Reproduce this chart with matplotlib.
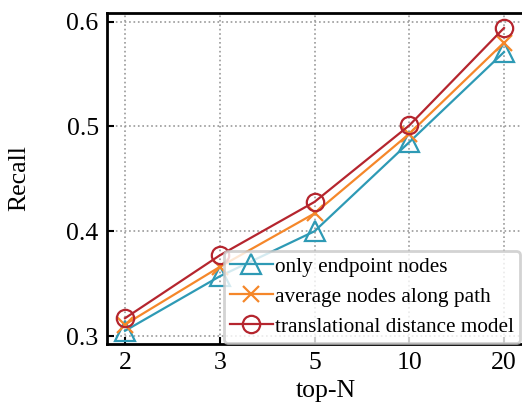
import matplotlib
matplotlib.use("Agg")
import matplotlib.pyplot as plt

plt.rcParams['font.family'] = ['Liberation Serif', 'DejaVu Serif']
plt.rcParams['mathtext.fontset'] = 'stix'

categories = ["2", "3", "5", "10", "20"]
endpoint = [0.305, 0.357, 0.400, 0.485, 0.571]
average = [0.311, 0.366, 0.417, 0.493, 0.580]
translational = [0.317, 0.377, 0.428, 0.501, 0.594]
labels = ["only endpoint nodes", "average nodes along path", "translational distance model"]
yticks = [0.3, 0.4, 0.5, 0.6]

W, H = 522, 407
fig = plt.figure(figsize=(W/100, H/100), dpi=100)
ax = fig.add_axes([107/W, (H-344)/H, (545-107)/W, (344-13)/H])

x = list(range(len(categories)))
ax.plot(x, endpoint, color='#2E9AB5', marker='^', markersize=14, mfc='none', mew=1.6, lw=1.6, label=labels[0])
ax.plot(x, average, color='#F5872A', marker='x', markersize=12, mfc='none', mew=1.6, lw=1.6, label=labels[1])
ax.plot(x, translational, color='#B5252E', marker='o', markersize=12.5, mfc='none', mew=1.6, lw=1.6, label=labels[2])

ax.set_xlim(-0.19, (545-125)/94.75)
ax.set_ylim(0.2924, 0.6083)
ax.set_xticks(x)
ax.set_xticklabels(categories)
ax.set_yticks(yticks)
ax.set_yticklabels([f"{v:.1f}" for v in yticks])
ax.tick_params(direction='in', length=5, width=1.5, labelsize=18.5, pad=6)
ax.spines['right'].set_visible(False)
for s in ax.spines.values():
    s.set_linewidth(2)
ax.grid(True, linestyle=':', color='#999999', linewidth=1.2)
ax.set_xlabel("top-N", fontsize=18.5, labelpad=4)
ax.set_ylabel("Recall", fontsize=18.5, labelpad=26)

leg = ax.legend(loc='lower right', bbox_to_anchor=(520/W, (H-343)/H), bbox_transform=fig.transFigure,
                fontsize=15.3, handlelength=2.0, handletextpad=0.1, labelspacing=0.47,
                borderpad=0.3, borderaxespad=0.0, frameon=True, fancybox=True, framealpha=0.8,
                edgecolor='#c8c8c8')
leg.get_frame().set_linewidth(2)

fig.savefig("out.png", dpi=100)
